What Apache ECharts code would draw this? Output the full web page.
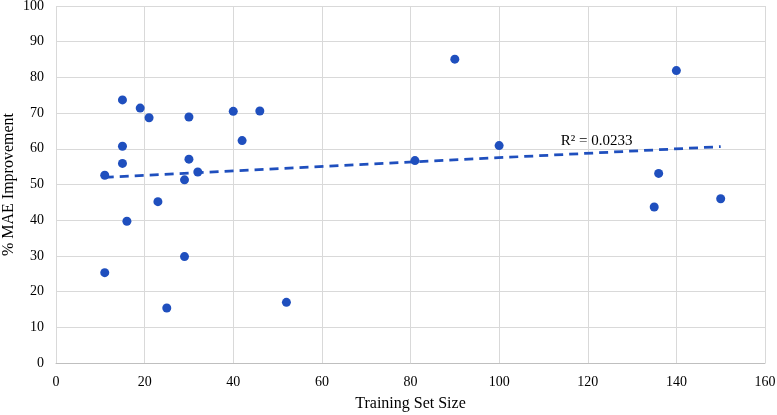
<!DOCTYPE html>
<html>
<head>
<meta charset="utf-8">
<script src="https://cdn.jsdelivr.net/npm/echarts@6/dist/echarts.min.js"></script>
<style>html,body{margin:0;padding:0;background:#fff;}#c{width:777px;height:415px;}</style>
</head>
<body>
<div id="c"></div>
<script>
const trainingSize = [11, 15, 15, 15, 19, 21, 30, 30, 29, 32, 40, 42, 46, 23, 16, 11, 29, 25, 52, 90, 81, 100, 140, 136, 150, 135];
const maeImprovement = [52.6, 73.7, 60.7, 55.9, 71.4, 68.7, 68.9, 57.1, 51.3, 53.5, 70.5, 62.3, 70.6, 45.2, 39.7, 25.3, 29.8, 15.4, 17.0, 85.1, 56.7, 60.9, 81.9, 53.1, 46.0, 43.7];
const trendX = [11, 150];
const trendY = [52.0, 60.6];
const rSquaredLabel = 'R² = 0.0233';
const rLabelPos = [122, 62.3];
const xTicks = { min: 0, max: 160, interval: 20 };
const yTicks = { min: 0, max: 100, interval: 10 };

const points = trainingSize.map((x, i) => [x, maeImprovement[i]]);
const trend = trendX.map((x, i) => [x, trendY[i]]);
const font = 'Liberation Serif, Times New Roman, serif';

const chart = echarts.init(document.getElementById('c'), null, { renderer: 'canvas' });
chart.setOption({
  backgroundColor: '#ffffff',
  animation: false,
  grid: { left: 56, right: 12, top: 6, bottom: 52, containLabel: false, outerBoundsMode: 'none' },
  xAxis: {
    type: 'value', min: xTicks.min, max: xTicks.max, interval: xTicks.interval,
    name: 'Training Set Size', nameLocation: 'middle', nameGap: 33, nameMoveOverlap: false,
    nameTextStyle: { fontFamily: font, fontSize: 16, color: '#000' },
    axisLine: { show: true, lineStyle: { color: '#bfbfbf', width: 1 } },
    axisTick: { show: false },
    axisLabel: { fontFamily: font, fontSize: 14, color: '#000', margin: 12 },
    splitLine: { show: true, lineStyle: { color: '#d9d9d9', width: 1 } }
  },
  yAxis: {
    type: 'value', min: yTicks.min, max: yTicks.max, interval: yTicks.interval,
    name: '% MAE Improvement', nameLocation: 'middle', nameGap: 39, nameMoveOverlap: false,
    nameTextStyle: { fontFamily: font, fontSize: 16, color: '#000' },
    axisLine: { show: false },
    axisTick: { show: false },
    axisLabel: { fontFamily: font, fontSize: 14, color: '#000', margin: 12 },
    splitLine: { show: true, lineStyle: { color: '#d9d9d9', width: 1 } }
  },
  series: [
    {
      type: 'line', data: trend, symbol: 'none', z: 2,
      lineStyle: { color: '#1f4fbe', width: 2.75, type: [9, 6] },
      markPoint: {
        symbol: 'circle', symbolSize: 0,
        data: [{ coord: rLabelPos, value: rSquaredLabel }],
        label: { show: true, formatter: rSquaredLabel, fontFamily: font, fontSize: 15, color: '#000', position: 'inside' }
      }
    },
    {
      type: 'scatter', data: points, symbol: 'circle', symbolSize: 9, z: 3,
      itemStyle: { color: '#1f4fbe', opacity: 1 }
    }
  ]
});
</script>
</body>
</html>
